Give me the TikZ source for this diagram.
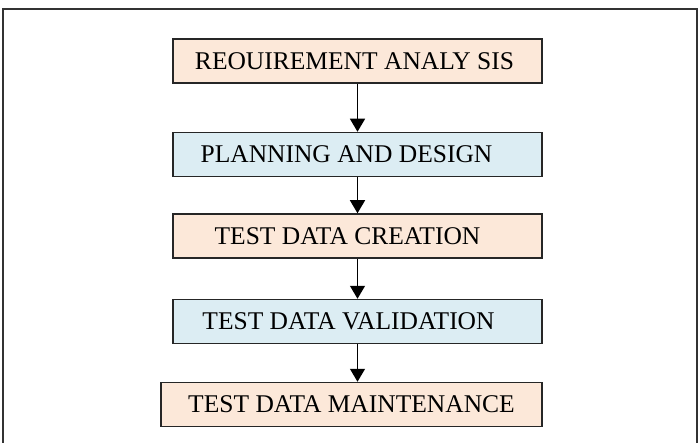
\documentclass[tikz,border=0pt]{standalone}
\usepackage{fontspec}
\setmainfont{Liberation Serif}
\usetikzlibrary{arrows.meta}
\usepackage{xcolor}
\definecolor{peachbg}{RGB}{252,232,217}
\definecolor{bluebg}{RGB}{220,237,243}

\begin{document}
\begin{tikzpicture}[
        x=1pt, y=-1pt,
        box/.style={draw=black!85, line width=1.5pt, inner sep=0pt,
                    minimum width=369pt, minimum height=44pt,
                    font=\fontsize{25.5}{30}\selectfont},
        peachbox/.style={box, fill=peachbg},
        bluebox/.style={box, fill=bluebg},
        outerframe/.style={draw=black!80, line width=2pt},
        arrow/.style={-{Triangle[length=13pt,width=15pt]}, line width=1.4pt},
    ]

    \useasboundingbox (0,0) rectangle (700,443);

    % ---------- frame round the whole chart ------------------------------
    \draw[outerframe] (3,455) |- (697,9) -- (697,455);

    % ---------- stages ----------------------------------------------------
    \node[peachbox] (requirement) at (357.5, 61.0)  {REOUIREMENT ANALY SIS\hspace*{6pt}};
    \node[bluebox]  (planning)    at (357.5,154.5)  {PLANNING AND DESIGN\hspace*{22pt}};
    \node[peachbox] (creation)    at (357.5,236.0)  {TEST DATA CREATION\hspace*{20pt}};
    \node[bluebox]  (validation)  at (357.5,321.5)  {TEST DATA VALIDATION\hspace*{18pt}};
    \node[peachbox, minimum width=381pt]
                    (maintenance) at (351.5,404.5)  {TEST DATA MAINTENANCE};

    % ---------- flow between the stages -----------------------------------
    \draw[arrow] (requirement) -- (planning);
    \draw[arrow] (planning)    -- (creation);
    \draw[arrow] (creation)    -- (validation);
    \draw[arrow] (validation)  -- ([xshift=6pt]maintenance.north);

\end{tikzpicture}
\end{document}
